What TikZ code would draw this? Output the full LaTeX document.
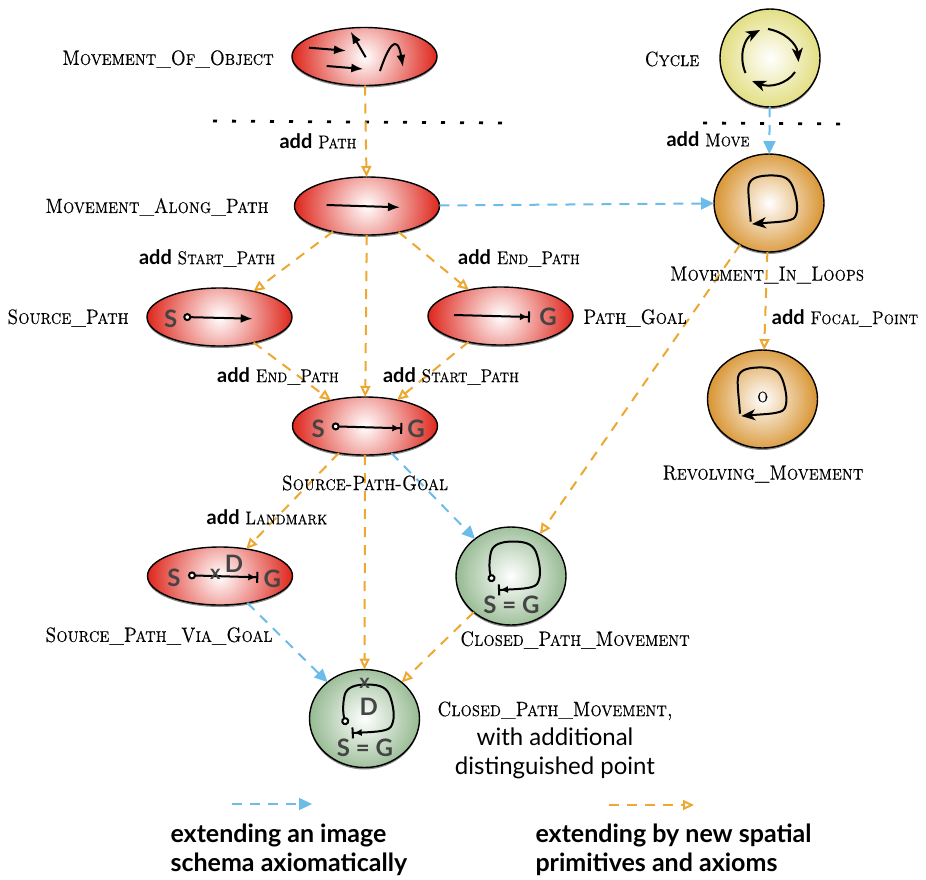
\documentclass[tikz,border=0pt]{standalone}
\usepackage{fontspec}
\setsansfont{Lato}
\newfontfamily\capsfont[FakeStretch=0.86,FakeBold=0.25]{Latin Modern Roman Caps}
\usetikzlibrary{arrows.meta,shapes.geometric,shadows}
\definecolor{axiomblue}{RGB}{108,188,234}
\definecolor{spatialorange}{RGB}{236,168,48}
\definecolor{redrim}{RGB}{222,38,28}
\definecolor{yellowrim}{RGB}{226,222,130}
\definecolor{orangerim}{RGB}{216,148,50}
\definecolor{greenrim}{RGB}{150,186,146}
\definecolor{letter}{RGB}{68,68,68}
\newcommand{\addschema}[1]{{\fontsize{20}{24}\selectfont\sffamily\bfseries add} {\capsfont #1}}
\tikzset{
	schema/.style 2 args={ellipse, draw=black, line width=1.4pt, inner sep=0pt, outer sep=0pt,
		drop shadow={shadow xshift=0pt, shadow yshift=-2pt, opacity=.45, fill=black},
		path picture={\fill[inner color=white, outer color=#1] (path picture bounding box.center) circle (#2pt);}},
	redschema/.style={schema={redrim}{72.5}, minimum width=145pt, minimum height=58pt},
	yellowschema/.style={schema={yellowrim}{50}, minimum width=100pt, minimum height=98pt},
	orangeschema/.style={schema={orangerim}{55}, minimum width=110pt, minimum height=98pt},
	greenschema/.style={schema={greenrim}{55}, minimum width=110pt, minimum height=98pt},
	axiom/.style={axiomblue, line width=2pt, dash pattern=on 10pt off 8pt, -{Triangle[length=13pt,width=12pt]}},
	spatial/.style={spatialorange, line width=2pt, dash pattern=on 10pt off 8pt, -{Triangle[open,length=11pt,width=10pt]}},
	dotline/.style={black, line width=2.8pt, dash pattern=on 4pt off 15pt},
	inner/.style={black, line width=2pt, -{Latex[length=12pt,width=9pt]}},
	turn/.style={black, line width=2pt, -{Stealth[length=14pt,width=11pt,inset=4pt]}},
	mapped/.style={inner, {Circle[open,fill=white,length=8pt,width=8pt]}-{Latex[length=8pt,width=7pt]Bar[width=11pt]}},
	schemaname/.style={font=\fontsize{20.7}{24}\selectfont\capsfont},
	addname/.style={font=\fontsize{18.6}{24}\selectfont},
	caption/.style={font=\fontsize{25}{29}\selectfont\sffamily\bfseries, align=left, anchor=west},
	mark letter/.style={font=\fontsize{24}{24}\selectfont\sffamily\bfseries, text=letter, inner sep=0pt},
	mark cross/.style={font=\fontsize{20}{20}\selectfont\sffamily\bfseries, text=letter, inner sep=0pt},
}
\begin{document}
\begin{tikzpicture}[x=1pt,y=-1pt]
	\useasboundingbox (0,0) rectangle (926,879);
	%schemas
	\node[redschema] (moo) at (364.5,56.5) {};
	\node[redschema] (map) at (367,206) {};
	\node[redschema] (sp) at (219.5,317) {};
	\node[redschema] (pg) at (500.5,316) {};
	\node[redschema] (spg) at (365,426) {};
	\node[redschema] (spvg) at (220,576) {};
	\node[yellowschema] (cycle) at (770,58) {};
	\node[orangeschema] (mil) at (769,203) {};
	\node[orangeschema] (rm) at (762.5,399) {};
	\node[greenschema] (cpm) at (511,576) {};
	\node[greenschema] (cpmd) at (364.5,718.5) {};
	%
	\coordinate (dotla) at (213,121);
	\coordinate (dotlb) at (505,123);
	\coordinate (dotra) at (703,123);
	\coordinate (dotrb) at (845,124);
	\draw[dotline] (dotla) -- (dotlb);
	\draw[dotline] (dotra) -- (dotrb);
	%arrows inside
	\draw[inner] (309,47.7) -- (346,50.7);
	\draw[inner] (326.7,66) -- (363.3,69);
	\draw[inner] (365.7,57.3) -- (350.7,31.7);
	\draw[inner] (380,71) .. controls (388,47) and (397,32) .. (403,67);
	\draw[inner] (326.7,205) -- (400,207.3);
	%
	\draw[turn] (768,29) .. controls (785,32) and (797,44) .. (798.5,62);
	\draw[turn] (795,72) .. controls (787,84) and (770,88) .. (752,81);
	\draw[turn] (745.5,73) .. controls (738,55) and (745,38) .. (760,30);
	%
	\node[mark letter] (sps) at (170.7,319) {S};
	\draw[inner, {Circle[open,fill=white,length=8pt,width=8pt]}-{Latex[length=12pt,width=9pt]}] (183.3,317) -- (252.7,318.7);
	\node[mark letter] (pgg) at (548,317) {G};
	\draw[inner, -{Latex[length=8pt,width=7pt]Bar[width=11pt]}] (454,315) -- (530,317);
	%
	\node[mark letter] (spgs) at (318.3,429) {S};
	\node[mark letter] (spgg) at (416,429) {G};
	\draw[mapped] (331.7,426.3) -- (402.3,428.3);
	%
	\node[mark letter] (spvgs) at (174,578.3) {S};
	\node[mark letter] (spvgg) at (272.3,579) {G};
	\node[mark letter] (spvgd) at (234,564) {D};
	\draw[mapped] (188,575.3) -- (258.3,577.3);
	\node[mark cross] (spvgx) at (215.3,574.5) {x};
	%
	\draw[turn] (750.7,221.7) .. controls (749.5,205) and (748,195) .. (748.5,187) .. controls (749,179) and (756,176) .. (768,175.5) .. controls (785,175) and (790,178) .. (794,190) .. controls (798,203) and (798,212) .. (795,217) .. controls (792,222) and (775,222) .. (752,224);
	\begin{scope}[shift={(-10.7,192)}]
		\draw[turn] (750.7,221.7) .. controls (749.5,205) and (748,195) .. (748.5,187) .. controls (749,179) and (756,176) .. (768,175.5) .. controls (785,175) and (790,178) .. (794,190) .. controls (798,203) and (798,212) .. (795,217) .. controls (792,222) and (775,222) .. (752,224);
	\end{scope}
	\node[font=\fontsize{20}{20}\selectfont\capsfont, inner sep=0pt] (rmo) at (762.7,397) {o};
	%
	\draw[mapped] (492.7,582) .. controls (489,570) and (489,560) .. (491,552) .. controls (493,544) and (502,541.5) .. (513,541.5) .. controls (528,541.5) and (534,545) .. (537,555) .. controls (541,568) and (541,578) .. (537,584) .. controls (533,589) and (518,589) .. (498,590);
	\node[mark letter] (cpmsg) at (511.5,604.5) {S = G};
	%
	\begin{scope}[shift={(-146.3,143)}]
		\draw[mapped] (492.7,582) .. controls (489,570) and (489,560) .. (491,552) .. controls (493,544) and (502,541.5) .. (513,541.5) .. controls (528,541.5) and (534,545) .. (537,555) .. controls (541,568) and (541,578) .. (537,584) .. controls (533,589) and (518,589) .. (498,590);
	\end{scope}
	\node[mark cross] (cpmdx) at (364.5,683) {x};
	\node[mark letter] (cpmdd) at (368.7,707) {D};
	\node[mark letter] (cpmdsg) at (365,747.5) {S = G};
	%connectors
	\draw[spatial] (moo) -- (map);
	\draw[axiom] (cycle) -- (mil);
	\draw[axiom] (map) -- (mil);
	\draw[spatial] (map) -- (sp);
	\draw[spatial] (map) -- (pg);
	\draw[spatial] (map) -- (spg);
	\draw[spatial] (sp) -- (spg);
	\draw[spatial] (pg) -- (spg);
	\draw[spatial] (mil) -- (rm);
	\draw[spatial] (mil) -- (cpm);
	\draw[spatial] (spg) -- (spvg);
	\draw[spatial] (spg) -- (cpmd);
	\draw[axiom] (spg) -- (cpm);
	\draw[axiom] (spvg) -- (cpmd);
	\draw[spatial] (cpm) -- (cpmd);
	%labels
	\node[schemaname] (moolabel) at (168,59) {Movement\_Of\_Object};
	\node[schemaname] (cyclelabel) at (672,59) {Cycle};
	\node[schemaname] (maplabel) at (157,207) {Movement\_Along\_Path};
	\node[schemaname] (splabel) at (68,318) {Source\_Path};
	\node[schemaname] (pglabel) at (635,318) {Path\_Goal};
	\node[schemaname] (spglabel) at (365,483) {Source-Path-Goal};
	\node[schemaname] (spvglabel) at (159,636) {Source\_Path\_Via\_Goal};
	\node[schemaname] (cpmlabel) at (575,640) {Closed\_Path\_Movement};
	\node[schemaname] (millabel) at (767,275) {Movement\_In\_Loops};
	\node[schemaname] (rmlabel) at (763,474) {Revolving\_Movement};
	\node[font=\fontsize{24}{29}\selectfont, align=center] (cpmdlabel) at (555,740) {{\fontsize{20.7}{29}\selectfont\capsfont Closed\_Path\_Movement,}\\\sffamily with additional\\\sffamily distinguished point};
	%
	\node[addname] (addpath) at (318,141) {\addschema{Path}};
	\node[addname] (addmove) at (708,139) {\addschema{Move}};
	\node[addname] (addstarta) at (207,258) {\addschema{Start\_Path}};
	\node[addname] (addenda) at (519,258) {\addschema{End\_Path}};
	\node[addname] (addendb) at (278,376) {\addschema{End\_Path}};
	\node[addname] (addstartb) at (451,376) {\addschema{Start\_Path}};
	\node[addname] (addlandmark) at (267,517) {\addschema{Landmark}};
	\node[addname] (addfocal) at (845,318) {\addschema{Focal\_Point}};
	%legend
	\coordinate (bluea) at (232,804);
	\coordinate (blueb) at (312,804);
	\coordinate (orangea) at (609,805);
	\coordinate (orangeb) at (694,805);
	\draw[axiom] (bluea) -- (blueb);
	\draw[spatial] (orangea) -- (orangeb);
	\node[caption] (captiona) at (167,850) {extending an image\\schema axiomatically};
	\node[caption] (captionb) at (532,850) {extending by new spatial\\primitives and axioms};
\end{tikzpicture}
\end{document}
